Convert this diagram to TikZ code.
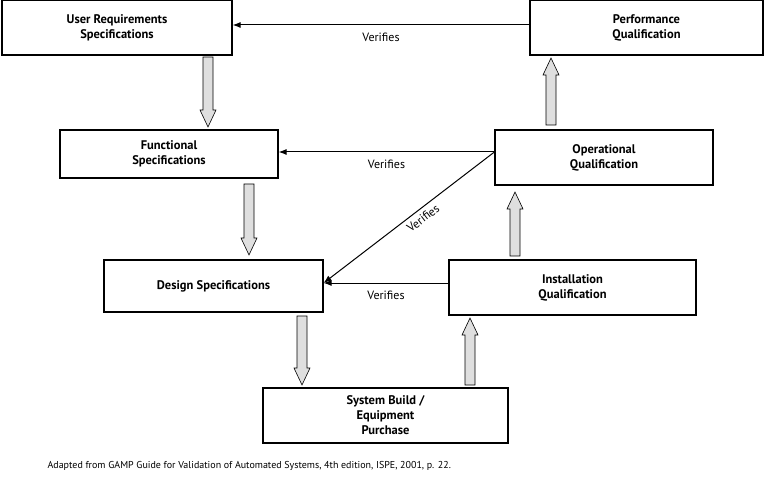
\documentclass[tikz,border=0pt]{standalone}
\usepackage{fontspec}
\setmainfont{PT Sans}
\usetikzlibrary{arrows.meta,calc}
\newcommand\myfat[3]{% x, ystart, yend (pixel, y down)
  \pgfmathsetmacro\dir{(#3>#2)?1:-1}
  \pgfmathsetmacro\hb{#3-\dir*17}
  \draw[fill=gray!25,line width=0.6pt] (#1-5,#2) -- (#1+5,#2) -- (#1+5,\hb) -- (#1+8,\hb) -- (#1,#3) -- (#1-8,\hb) -- (#1-5,\hb) -- cycle;}
\begin{document}
\begin{tikzpicture}[x=1pt,y=-1pt,
  box/.style={draw,line width=1.2pt,font=\bfseries\fontsize{12.5}{15}\selectfont,align=center,inner sep=0pt},
  ver/.style={-{Latex[length=8pt,width=6pt]},line width=1pt},
  lab/.style={font=\fontsize{12}{14}\selectfont}]
\useasboundingbox (0,0) rectangle (765,478);
\node[box,minimum width=230,minimum height=55] (urs) at (117,27.5) {User Requirements\\Specifications};
\node[box,minimum width=233,minimum height=55] (pq) at (646.5,27.5) {Performance\\Qualification};
\node[box,minimum width=218,minimum height=48] (fs) at (169,154) {Functional\\Specifications};
\node[box,minimum width=218,minimum height=55] (oq) at (604,157.5) {Operational\\Qualification};
\node[box,minimum width=219,minimum height=52] (ds) at (213.5,286) {Design Specifications};
\node[box,minimum width=247,minimum height=55] (iq) at (572.5,287.5) {Installation\\Qualification};
\node[box,minimum width=245,minimum height=55] (sb) at (385.5,415.5) {System Build /\\Equipment\\Purchase};
\node[anchor=west,font=\fontsize{10}{12}\selectfont] (cap) at (44,466) {Adapted from GAMP Guide for Validation of Automated Systems, 4th edition, ISPE, 2001, p. 22.};
\draw[ver] (pq.west |- 0,25) -- (urs.east |- 0,25) node[lab,midway,below=4pt] {Verifies};
\draw[ver] (oq.west |- 0,152) -- (fs.east |- 0,152) node[lab,midway,below=4pt] {Verifies};
\draw[ver] (iq.west |- 0,283) -- (ds.east |- 0,283) node[lab,midway,below=4pt] {Verifies};
\draw[ver] (oq.west |- 0,152) -- (ds.east |- 0,283) node[lab,pos=0.45,sloped,below=1pt] {Verifies};
\myfat{208}{57}{127}
\myfat{249}{184}{255}
\myfat{302}{316}{385}
\myfat{470}{385}{318}
\myfat{515}{256}{192}
\myfat{551}{125}{58}
\end{tikzpicture}
\end{document}
